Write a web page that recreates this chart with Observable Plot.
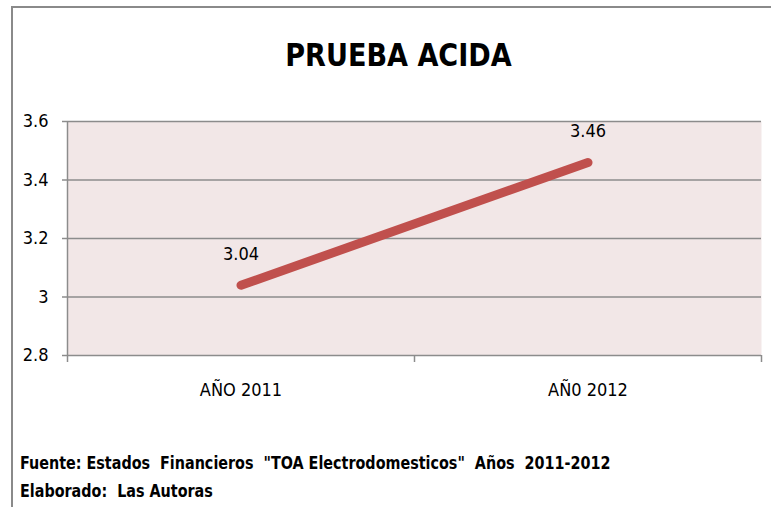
<!DOCTYPE html>
<html>
<head>
<meta charset="utf-8">
<script src="https://cdn.jsdelivr.net/npm/d3@7"></script>
<script src="https://cdn.jsdelivr.net/npm/@observablehq/plot@0.6"></script>
<style>
  html, body { margin: 0; padding: 0; background: #fff; }
  #wrap { position: relative; width: 771px; height: 507px; overflow: hidden; font-family: "DejaVu Sans Condensed", "Liberation Sans Narrow", sans-serif; }
  #border { position: absolute; left: 11px; top: 6px; width: 780px; height: 520px; border-top: 2px solid #8a8a8a; border-left: 2px solid #8a8a8a; }
  #title { position: absolute; top: 36px; left: 0; width: 797px; text-align: center; font-size: 32px; font-weight: bold; color: #000; transform: scaleX(0.94); transform-origin: 398px 0; }
  #chart { position: absolute; left: 0; top: 100px; }
  #caption { position: absolute; left: 20px; top: 449px; font-size: 18px; font-weight: bold; line-height: 28px; color: #000; transform: scaleX(0.886); transform-origin: 0 0; white-space: nowrap; }
</style>
</head>
<body>
<div id="wrap">
  <div id="border"></div>
  <div id="title">PRUEBA ACIDA</div>
  <div id="chart"></div>
  <div id="caption">Fuente: Estados&nbsp; Financieros&nbsp; "TOA Electrodomesticos"&nbsp; Años&nbsp; 2011-2012<br>Elaborado:&nbsp; Las Autoras</div>
</div>
<script>
const categories = ["AÑO 2011", "AÑ0 2012"];
const values = [3.04, 3.46];
const yTicks = [2.8, 3.0, 3.2, 3.4, 3.6];

const data = categories.map((c, i) => ({cat: c, idx: i + 0.5, value: values[i]}));
const grey = "#8c8c8c";

const chart = Plot.plot({
  width: 771,
  height: 305,
  marginTop: 21,
  marginBottom: 50,
  marginLeft: 67,
  marginRight: 10,
  style: {fontFamily: '"DejaVu Sans Condensed", "Liberation Sans Narrow", sans-serif', background: "transparent"},
  x: {domain: [0, categories.length], label: null},
  y: {domain: [yTicks[0], yTicks[yTicks.length - 1]], label: null},
  marks: [
    Plot.frame({fill: "#f2e7e7", stroke: null}),
    Plot.ruleY(yTicks, {stroke: grey, strokeWidth: 1.5}),
    Plot.ruleX([0], {stroke: grey, strokeWidth: 1.5}),
    Plot.axisY({ticks: yTicks, label: null, tickSize: 5, tickPadding: 14, tickFormat: d => String(+d.toFixed(1)), fontSize: 18, stroke: grey, fill: "#000", strokeWidth: 1.5}),
    Plot.axisX({ticks: d3.range(categories.length + 1), label: null, tickSize: 7, tickFormat: () => "", stroke: grey, strokeWidth: 1.5}),
    Plot.axisX({ticks: data.map(d => d.idx), label: null, tickSize: 0, tickPadding: 28, tickFormat: v => categories[Math.floor(v)], fontSize: 18, fill: "#000"}),
    Plot.line(data, {x: "idx", y: "value", stroke: "#c0504d", strokeWidth: 9, strokeLinecap: "round"}),
    Plot.text(data, {x: "idx", y: "value", text: d => d.value.toFixed(2), dy: -31, fontSize: 18, fill: "#000"})
  ]
});
document.getElementById("chart").appendChild(chart);
</script>
</body>
</html>
